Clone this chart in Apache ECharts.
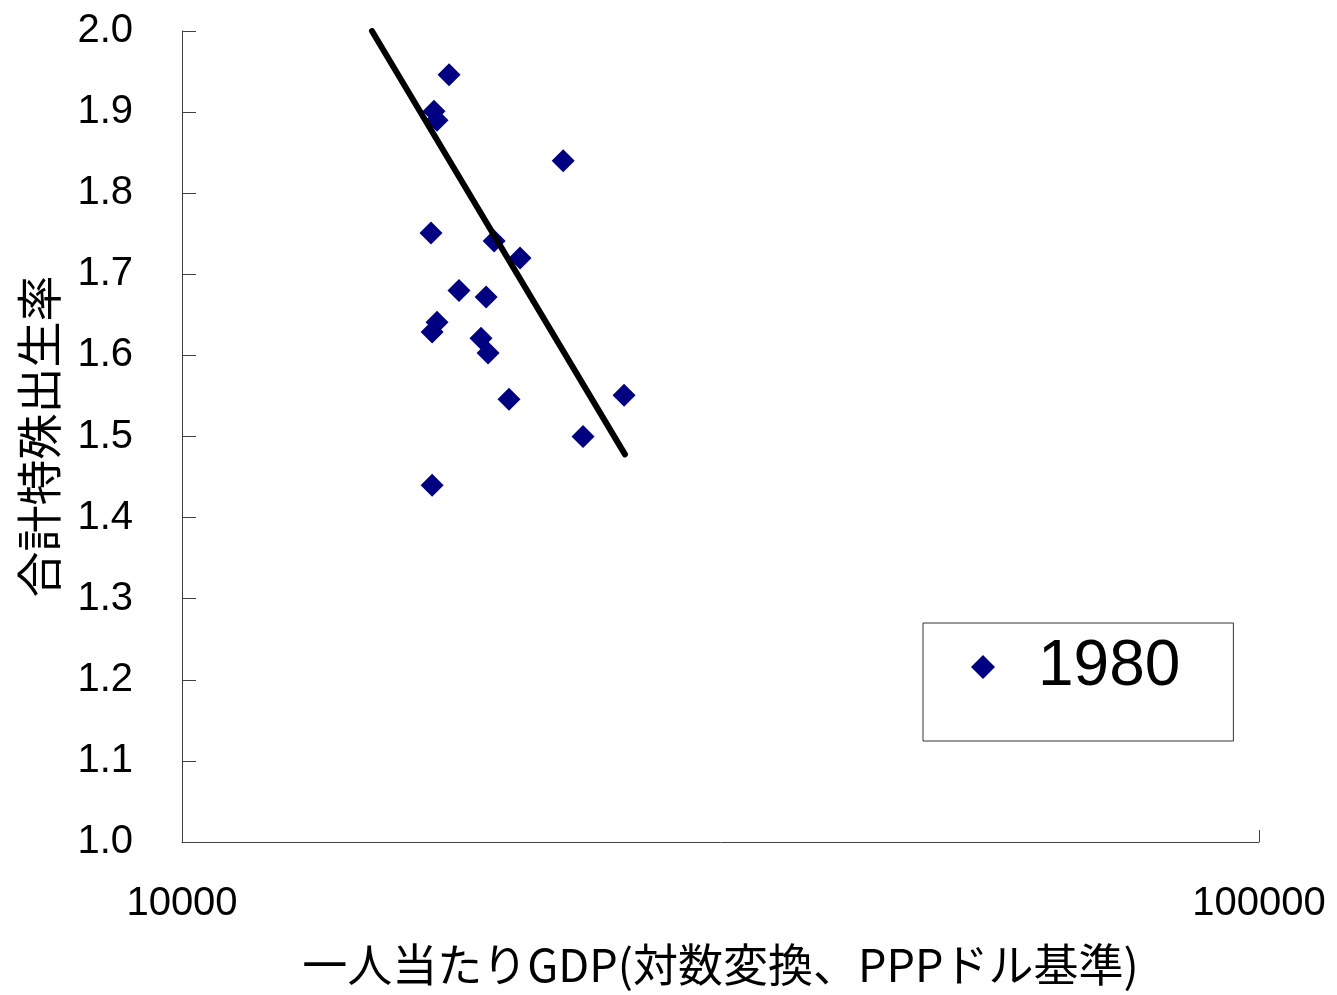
<!DOCTYPE html>
<html>
<head>
<meta charset="utf-8">
<script src="https://cdn.jsdelivr.net/npm/echarts@6/dist/echarts.min.js"></script>
<style>html,body{margin:0;padding:0;background:#fff;}#c{width:1337px;height:995px;}</style>
</head>
<body>
<div id="c"></div>
<script>
const seriesName = '1980';
const gdp = [17700, 17140, 17250, 22590, 17030, 19490, 20600, 18080, 19160, 17250, 17070, 18950, 19240, 20120, 25730, 23570, 17070];
const tfr = [1.946, 1.901, 1.890, 1.840, 1.751, 1.741, 1.720, 1.680, 1.672, 1.641, 1.629, 1.621, 1.603, 1.546, 1.551, 1.500, 1.440];
const trendX = [15010, 25780];
const trendY = [2.0, 1.478];
const xTicks = [10000, 100000];
const yMin = 1.0, yMax = 2.0, yStep = 0.1;

const chart = echarts.init(document.getElementById('c'));
const axisColor = '#404040';
chart.setOption({
  animation: false,
  backgroundColor: '#fff',
  grid: { left: 182, right: 78, top: 31, bottom: 153, containLabel: false },
  legend: {
    data: [seriesName],
    left: 923, top: 623,
    orient: 'vertical',
    borderColor: '#333', borderWidth: 1,
    padding: [10, 53, 40, 48],
    itemWidth: 24, itemHeight: 24,
    textStyle: { fontFamily: 'Liberation Sans', fontSize: 64, color: '#000', lineHeight: 68, padding: [0, 0, 0, 38] }
  },
  xAxis: {
    type: 'log', logBase: 10, min: xTicks[0], max: xTicks[1],
    name: '一人当たりGDP(対数変換、PPPドル基準)',
    nameLocation: 'middle', nameGap: 100,
    nameTextStyle: { fontFamily: 'Noto Sans CJK JP', fontSize: 45, color: '#000' },
    axisLine: { lineStyle: { color: axisColor, width: 1 } },
    axisTick: { inside: true, length: 12, lineStyle: { color: axisColor } },
    minorTick: { show: false },
    splitLine: { show: false },
    axisLabel: { fontFamily: 'Liberation Sans', fontSize: 40, color: '#000', margin: 42, showMinLabel: true, showMaxLabel: true,
      formatter: v => String(Math.round(v)) }
  },
  yAxis: {
    type: 'value', min: yMin, max: yMax, interval: yStep,
    name: '合計特殊出生率',
    nameLocation: 'middle', nameGap: 120, nameRotate: 90,
    nameTextStyle: { fontFamily: 'Noto Sans CJK JP', fontSize: 46, color: '#000' },
    axisLine: { show: true, lineStyle: { color: axisColor, width: 1 } },
    axisTick: { show: true, inside: true, length: 14, lineStyle: { color: axisColor } },
    splitLine: { show: false },
    axisLabel: { fontFamily: 'Liberation Sans', fontSize: 40, color: '#000', margin: 49,
      formatter: v => v.toFixed(1) }
  },
  series: [
    {
      name: seriesName, type: 'scatter', symbol: 'diamond', symbolSize: 23,
      itemStyle: { color: '#000080', opacity: 1 },
      data: gdp.map((g, i) => [g, tfr[i]]),
      z: 2
    },
    {
      name: 'trend', type: 'line', symbol: 'none',
      lineStyle: { color: '#000', width: 6, cap: 'round' },
      data: trendX.map((x, i) => [x, trendY[i]]),
      z: 3, silent: true
    }
  ]
});
</script>
</body>
</html>
